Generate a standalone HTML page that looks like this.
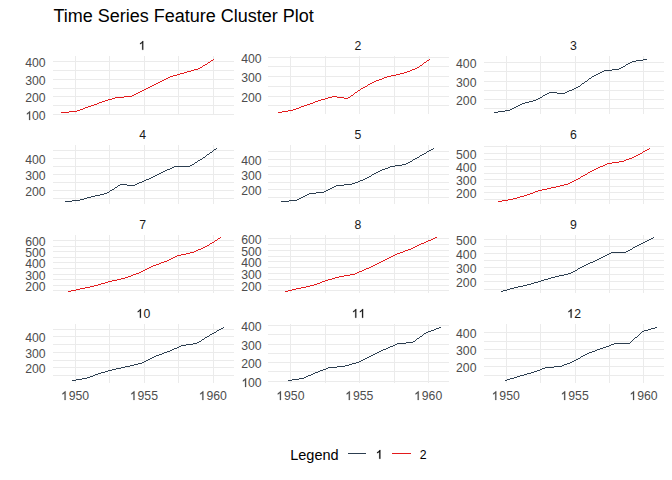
<!DOCTYPE html>
<html><head><meta charset="utf-8"><title>Time Series Feature Cluster Plot</title>
<style>
html,body{margin:0;padding:0;background:#fff;}
body{width:672px;height:480px;overflow:hidden;}
svg{display:block;font-family:"Liberation Sans",sans-serif;}
</style></head><body>
<svg width="672" height="480" viewBox="0 0 672 480">
<rect x="0" y="0" width="672" height="480" fill="#ffffff"/>
<rect x="53" y="114" width="181" height="1" fill="#ebebeb"/>
<rect x="53" y="105" width="181" height="1" fill="#ebebeb"/>
<rect x="53" y="96" width="181" height="1" fill="#ebebeb"/>
<rect x="53" y="88" width="181" height="1" fill="#ebebeb"/>
<rect x="53" y="79" width="181" height="1" fill="#ebebeb"/>
<rect x="53" y="70" width="181" height="1" fill="#ebebeb"/>
<rect x="53" y="61" width="181" height="1" fill="#ebebeb"/>
<rect x="109" y="56" width="1" height="58" fill="#ebebeb"/>
<rect x="178" y="56" width="1" height="58" fill="#ebebeb"/>
<rect x="75" y="56" width="1" height="58" fill="#ebebeb"/>
<rect x="144" y="56" width="1" height="58" fill="#ebebeb"/>
<rect x="213" y="56" width="1" height="58" fill="#ebebeb"/>
<path d="M763 0H583V1147Q518 1085 412.5 1023Q307 961 223 930V1104Q374 1175 487 1276Q600 1377 647 1472H763Z" fill="#4d4d4d" stroke="#4d4d4d" stroke-width="36" transform="translate(25.56,120.00) scale(0.005981,-0.005981)"/>
<text x="31.97" y="120.00" font-size="12.25" fill="#4d4d4d">0</text>
<text x="38.79" y="120.00" font-size="12.25" fill="#4d4d4d">0</text>
<text x="25.16" y="102.00" font-size="12.25" fill="#4d4d4d">2</text>
<text x="31.97" y="102.00" font-size="12.25" fill="#4d4d4d">0</text>
<text x="38.79" y="102.00" font-size="12.25" fill="#4d4d4d">0</text>
<text x="25.16" y="85.00" font-size="12.25" fill="#4d4d4d">3</text>
<text x="31.97" y="85.00" font-size="12.25" fill="#4d4d4d">0</text>
<text x="38.79" y="85.00" font-size="12.25" fill="#4d4d4d">0</text>
<text x="25.16" y="67.00" font-size="12.25" fill="#4d4d4d">4</text>
<text x="31.97" y="67.00" font-size="12.25" fill="#4d4d4d">0</text>
<text x="38.79" y="67.00" font-size="12.25" fill="#4d4d4d">0</text>
<path d="M763 0H583V1147Q518 1085 412.5 1023Q307 961 223 930V1104Q374 1175 487 1276Q600 1377 647 1472H763Z" fill="#1a1a1a" stroke="#1a1a1a" stroke-width="36" transform="translate(138.69,49.80) scale(0.005981,-0.005981)"/>
<path d="M213 59h1v1h-1zM211 60h2v1h-2zM210 61h1v1h-1zM208 62h2v1h-2zM207 63h1v1h-1zM205 64h2v1h-2zM203 65h2v1h-2zM202 66h1v1h-1zM200 67h2v1h-2zM198 68h2v1h-2zM194 69h4v1h-4zM191 70h3v1h-3zM187 71h4v1h-4zM184 72h3v1h-3zM180 73h4v1h-4zM177 74h3v1h-3zM173 75h4v1h-4zM170 76h3v1h-3zM168 77h2v1h-2zM166 78h2v1h-2zM164 79h2v1h-2zM162 80h2v1h-2zM160 81h2v1h-2zM158 82h2v1h-2zM156 83h2v1h-2zM154 84h2v1h-2zM152 85h2v1h-2zM150 86h2v1h-2zM148 87h2v1h-2zM146 88h2v1h-2zM144 89h2v1h-2zM142 90h2v1h-2zM140 91h2v1h-2zM138 92h2v1h-2zM136 93h2v1h-2zM134 94h2v1h-2zM132 95h2v1h-2zM124 96h8v1h-8zM115 97h9v1h-9zM112 98h3v1h-3zM108 99h4v1h-4zM105 100h3v1h-3zM102 101h3v1h-3zM99 102h3v1h-3zM97 103h2v1h-2zM94 104h3v1h-3zM91 105h3v1h-3zM88 106h3v1h-3zM85 107h3v1h-3zM83 108h2v1h-2zM80 109h3v1h-3zM77 110h3v1h-3zM69 111h8v1h-8zM61 112h8v1h-8z" fill="#e31a1c" shape-rendering="crispEdges"/>
<rect x="268" y="105" width="181" height="1" fill="#ebebeb"/>
<rect x="268" y="96" width="181" height="1" fill="#ebebeb"/>
<rect x="268" y="86" width="181" height="1" fill="#ebebeb"/>
<rect x="268" y="76" width="181" height="1" fill="#ebebeb"/>
<rect x="268" y="66" width="181" height="1" fill="#ebebeb"/>
<rect x="268" y="57" width="181" height="1" fill="#ebebeb"/>
<rect x="325" y="56" width="1" height="58" fill="#ebebeb"/>
<rect x="394" y="56" width="1" height="58" fill="#ebebeb"/>
<rect x="290" y="56" width="1" height="58" fill="#ebebeb"/>
<rect x="359" y="56" width="1" height="58" fill="#ebebeb"/>
<rect x="428" y="56" width="1" height="58" fill="#ebebeb"/>
<text x="241.16" y="102.00" font-size="12.25" fill="#4d4d4d">2</text>
<text x="247.97" y="102.00" font-size="12.25" fill="#4d4d4d">0</text>
<text x="254.79" y="102.00" font-size="12.25" fill="#4d4d4d">0</text>
<text x="241.16" y="82.00" font-size="12.25" fill="#4d4d4d">3</text>
<text x="247.97" y="82.00" font-size="12.25" fill="#4d4d4d">0</text>
<text x="254.79" y="82.00" font-size="12.25" fill="#4d4d4d">0</text>
<text x="241.16" y="63.00" font-size="12.25" fill="#4d4d4d">4</text>
<text x="247.97" y="63.00" font-size="12.25" fill="#4d4d4d">0</text>
<text x="254.79" y="63.00" font-size="12.25" fill="#4d4d4d">0</text>
<text x="354.54" y="49.80" font-size="12.25" fill="#1a1a1a">2</text>
<path d="M429 59h1v1h-1zM427 60h2v1h-2zM426 61h1v1h-1zM424 62h2v1h-2zM423 63h1v1h-1zM422 64h1v1h-1zM420 65h2v1h-2zM419 66h1v1h-1zM417 67h2v1h-2zM415 68h2v1h-2zM412 69h3v1h-3zM410 70h2v1h-2zM407 71h3v1h-3zM404 72h3v1h-3zM400 73h4v1h-4zM396 74h4v1h-4zM391 75h5v1h-5zM387 76h4v1h-4zM384 77h3v1h-3zM382 78h2v1h-2zM379 79h3v1h-3zM376 80h3v1h-3zM374 81h2v1h-2zM372 82h2v1h-2zM370 83h2v1h-2zM368 84h2v1h-2zM367 85h1v1h-1zM365 86h2v1h-2zM363 87h2v1h-2zM361 88h2v1h-2zM360 89h1v1h-1zM358 90h2v1h-2zM357 91h1v1h-1zM355 92h2v1h-2zM354 93h1v1h-1zM353 94h1v1h-1zM351 95h2v1h-2zM332 96h5v1h-5zM350 96h1v1h-1zM328 97h4v1h-4zM337 97h7v1h-7zM348 97h2v1h-2zM325 98h3v1h-3zM344 98h4v1h-4zM321 99h4v1h-4zM318 100h3v1h-3zM315 101h3v1h-3zM313 102h2v1h-2zM310 103h3v1h-3zM307 104h3v1h-3zM304 105h3v1h-3zM301 106h3v1h-3zM299 107h2v1h-2zM296 108h3v1h-3zM293 109h3v1h-3zM288 110h5v1h-5zM282 111h6v1h-6zM278 112h4v1h-4z" fill="#e31a1c" shape-rendering="crispEdges"/>
<rect x="484" y="108" width="180" height="1" fill="#ebebeb"/>
<rect x="484" y="99" width="180" height="1" fill="#ebebeb"/>
<rect x="484" y="90" width="180" height="1" fill="#ebebeb"/>
<rect x="484" y="81" width="180" height="1" fill="#ebebeb"/>
<rect x="484" y="71" width="180" height="1" fill="#ebebeb"/>
<rect x="484" y="62" width="180" height="1" fill="#ebebeb"/>
<rect x="540" y="56" width="1" height="58" fill="#ebebeb"/>
<rect x="609" y="56" width="1" height="58" fill="#ebebeb"/>
<rect x="506" y="56" width="1" height="58" fill="#ebebeb"/>
<rect x="575" y="56" width="1" height="58" fill="#ebebeb"/>
<rect x="643" y="56" width="1" height="58" fill="#ebebeb"/>
<text x="456.06" y="105.00" font-size="12.25" fill="#4d4d4d">2</text>
<text x="462.87" y="105.00" font-size="12.25" fill="#4d4d4d">0</text>
<text x="469.69" y="105.00" font-size="12.25" fill="#4d4d4d">0</text>
<text x="456.06" y="87.00" font-size="12.25" fill="#4d4d4d">3</text>
<text x="462.87" y="87.00" font-size="12.25" fill="#4d4d4d">0</text>
<text x="469.69" y="87.00" font-size="12.25" fill="#4d4d4d">0</text>
<text x="456.06" y="68.00" font-size="12.25" fill="#4d4d4d">4</text>
<text x="462.87" y="68.00" font-size="12.25" fill="#4d4d4d">0</text>
<text x="469.69" y="68.00" font-size="12.25" fill="#4d4d4d">0</text>
<text x="569.89" y="49.80" font-size="12.25" fill="#1a1a1a">3</text>
<path d="M643 59h4v1h-4zM636 60h7v1h-7zM632 61h4v1h-4zM630 62h2v1h-2zM628 63h2v1h-2zM626 64h2v1h-2zM625 65h1v1h-1zM623 66h2v1h-2zM621 67h2v1h-2zM619 68h2v1h-2zM612 69h7v1h-7zM604 70h8v1h-8zM602 71h2v1h-2zM600 72h2v1h-2zM598 73h2v1h-2zM596 74h2v1h-2zM594 75h2v1h-2zM592 76h2v1h-2zM591 77h1v1h-1zM589 78h2v1h-2zM588 79h1v1h-1zM587 80h1v1h-1zM585 81h2v1h-2zM584 82h1v1h-1zM582 83h2v1h-2zM581 84h1v1h-1zM580 85h1v1h-1zM578 86h2v1h-2zM576 87h2v1h-2zM574 88h2v1h-2zM572 89h2v1h-2zM569 90h3v1h-3zM567 91h2v1h-2zM549 92h8v1h-8zM565 92h2v1h-2zM547 93h2v1h-2zM557 93h8v1h-8zM545 94h2v1h-2zM543 95h2v1h-2zM542 96h1v1h-1zM540 97h2v1h-2zM538 98h2v1h-2zM536 99h2v1h-2zM533 100h3v1h-3zM529 101h4v1h-4zM525 102h4v1h-4zM522 103h3v1h-3zM520 104h2v1h-2zM518 105h2v1h-2zM516 106h2v1h-2zM514 107h2v1h-2zM512 108h2v1h-2zM510 109h2v1h-2zM505 110h5v1h-5zM498 111h7v1h-7zM494 112h4v1h-4z" fill="#2c3e50" shape-rendering="crispEdges"/>
<rect x="53" y="198" width="181" height="1" fill="#ebebeb"/>
<rect x="53" y="190" width="181" height="1" fill="#ebebeb"/>
<rect x="53" y="182" width="181" height="1" fill="#ebebeb"/>
<rect x="53" y="174" width="181" height="1" fill="#ebebeb"/>
<rect x="53" y="166" width="181" height="1" fill="#ebebeb"/>
<rect x="53" y="158" width="181" height="1" fill="#ebebeb"/>
<rect x="53" y="150" width="181" height="1" fill="#ebebeb"/>
<rect x="109" y="145" width="1" height="59" fill="#ebebeb"/>
<rect x="178" y="145" width="1" height="59" fill="#ebebeb"/>
<rect x="75" y="145" width="1" height="59" fill="#ebebeb"/>
<rect x="144" y="145" width="1" height="59" fill="#ebebeb"/>
<rect x="213" y="145" width="1" height="59" fill="#ebebeb"/>
<text x="25.16" y="196.00" font-size="12.25" fill="#4d4d4d">2</text>
<text x="31.97" y="196.00" font-size="12.25" fill="#4d4d4d">0</text>
<text x="38.79" y="196.00" font-size="12.25" fill="#4d4d4d">0</text>
<text x="25.16" y="180.00" font-size="12.25" fill="#4d4d4d">3</text>
<text x="31.97" y="180.00" font-size="12.25" fill="#4d4d4d">0</text>
<text x="38.79" y="180.00" font-size="12.25" fill="#4d4d4d">0</text>
<text x="25.16" y="164.00" font-size="12.25" fill="#4d4d4d">4</text>
<text x="31.97" y="164.00" font-size="12.25" fill="#4d4d4d">0</text>
<text x="38.79" y="164.00" font-size="12.25" fill="#4d4d4d">0</text>
<text x="139.19" y="138.80" font-size="12.25" fill="#1a1a1a">4</text>
<path d="M216 148h1v1h-1zM214 149h2v1h-2zM213 150h1v1h-1zM212 151h1v1h-1zM210 152h2v1h-2zM209 153h1v1h-1zM207 154h2v1h-2zM206 155h1v1h-1zM205 156h1v1h-1zM203 157h2v1h-2zM202 158h1v1h-1zM200 159h2v1h-2zM198 160h2v1h-2zM197 161h1v1h-1zM195 162h2v1h-2zM194 163h1v1h-1zM192 164h2v1h-2zM190 165h2v1h-2zM174 166h16v1h-16zM172 167h2v1h-2zM170 168h2v1h-2zM167 169h3v1h-3zM165 170h2v1h-2zM163 171h2v1h-2zM161 172h2v1h-2zM159 173h2v1h-2zM157 174h2v1h-2zM155 175h2v1h-2zM153 176h2v1h-2zM151 177h2v1h-2zM149 178h2v1h-2zM146 179h3v1h-3zM144 180h2v1h-2zM142 181h2v1h-2zM139 182h3v1h-3zM137 183h2v1h-2zM120 184h7v1h-7zM135 184h2v1h-2zM118 185h2v1h-2zM127 185h8v1h-8zM117 186h1v1h-1zM115 187h2v1h-2zM114 188h1v1h-1zM112 189h2v1h-2zM110 190h2v1h-2zM109 191h1v1h-1zM107 192h2v1h-2zM104 193h3v1h-3zM100 194h4v1h-4zM95 195h5v1h-5zM91 196h4v1h-4zM87 197h4v1h-4zM84 198h3v1h-3zM80 199h4v1h-4zM72 200h8v1h-8zM65 201h7v1h-7z" fill="#2c3e50" shape-rendering="crispEdges"/>
<rect x="268" y="197" width="181" height="1" fill="#ebebeb"/>
<rect x="268" y="189" width="181" height="1" fill="#ebebeb"/>
<rect x="268" y="182" width="181" height="1" fill="#ebebeb"/>
<rect x="268" y="174" width="181" height="1" fill="#ebebeb"/>
<rect x="268" y="166" width="181" height="1" fill="#ebebeb"/>
<rect x="268" y="159" width="181" height="1" fill="#ebebeb"/>
<rect x="268" y="151" width="181" height="1" fill="#ebebeb"/>
<rect x="325" y="145" width="1" height="59" fill="#ebebeb"/>
<rect x="394" y="145" width="1" height="59" fill="#ebebeb"/>
<rect x="290" y="145" width="1" height="59" fill="#ebebeb"/>
<rect x="359" y="145" width="1" height="59" fill="#ebebeb"/>
<rect x="428" y="145" width="1" height="59" fill="#ebebeb"/>
<text x="241.16" y="195.00" font-size="12.25" fill="#4d4d4d">2</text>
<text x="247.97" y="195.00" font-size="12.25" fill="#4d4d4d">0</text>
<text x="254.79" y="195.00" font-size="12.25" fill="#4d4d4d">0</text>
<text x="241.16" y="180.00" font-size="12.25" fill="#4d4d4d">3</text>
<text x="247.97" y="180.00" font-size="12.25" fill="#4d4d4d">0</text>
<text x="254.79" y="180.00" font-size="12.25" fill="#4d4d4d">0</text>
<text x="241.16" y="165.00" font-size="12.25" fill="#4d4d4d">4</text>
<text x="247.97" y="165.00" font-size="12.25" fill="#4d4d4d">0</text>
<text x="254.79" y="165.00" font-size="12.25" fill="#4d4d4d">0</text>
<text x="354.54" y="138.80" font-size="12.25" fill="#1a1a1a">5</text>
<path d="M433 148h1v1h-1zM431 149h2v1h-2zM429 150h2v1h-2zM427 151h2v1h-2zM426 152h1v1h-1zM424 153h2v1h-2zM422 154h2v1h-2zM420 155h2v1h-2zM419 156h1v1h-1zM417 157h2v1h-2zM415 158h2v1h-2zM413 159h2v1h-2zM412 160h1v1h-1zM410 161h2v1h-2zM408 162h2v1h-2zM406 163h2v1h-2zM402 164h4v1h-4zM395 165h7v1h-7zM390 166h5v1h-5zM388 167h2v1h-2zM385 168h3v1h-3zM382 169h3v1h-3zM380 170h2v1h-2zM378 171h2v1h-2zM376 172h2v1h-2zM374 173h2v1h-2zM372 174h2v1h-2zM371 175h1v1h-1zM369 176h2v1h-2zM367 177h2v1h-2zM365 178h2v1h-2zM363 179h2v1h-2zM360 180h3v1h-3zM358 181h2v1h-2zM355 182h3v1h-3zM352 183h3v1h-3zM344 184h8v1h-8zM336 185h8v1h-8zM334 186h2v1h-2zM332 187h2v1h-2zM330 188h2v1h-2zM328 189h2v1h-2zM326 190h2v1h-2zM324 191h2v1h-2zM316 192h8v1h-8zM309 193h7v1h-7zM307 194h2v1h-2zM305 195h2v1h-2zM303 196h2v1h-2zM301 197h2v1h-2zM299 198h2v1h-2zM297 199h2v1h-2zM289 200h8v1h-8zM281 201h8v1h-8z" fill="#2c3e50" shape-rendering="crispEdges"/>
<rect x="484" y="199" width="180" height="1" fill="#ebebeb"/>
<rect x="484" y="192" width="180" height="1" fill="#ebebeb"/>
<rect x="484" y="186" width="180" height="1" fill="#ebebeb"/>
<rect x="484" y="179" width="180" height="1" fill="#ebebeb"/>
<rect x="484" y="173" width="180" height="1" fill="#ebebeb"/>
<rect x="484" y="166" width="180" height="1" fill="#ebebeb"/>
<rect x="484" y="159" width="180" height="1" fill="#ebebeb"/>
<rect x="484" y="153" width="180" height="1" fill="#ebebeb"/>
<rect x="484" y="146" width="180" height="1" fill="#ebebeb"/>
<rect x="540" y="145" width="1" height="59" fill="#ebebeb"/>
<rect x="609" y="145" width="1" height="59" fill="#ebebeb"/>
<rect x="506" y="145" width="1" height="59" fill="#ebebeb"/>
<rect x="575" y="145" width="1" height="59" fill="#ebebeb"/>
<rect x="643" y="145" width="1" height="59" fill="#ebebeb"/>
<text x="456.06" y="198.00" font-size="12.25" fill="#4d4d4d">2</text>
<text x="462.87" y="198.00" font-size="12.25" fill="#4d4d4d">0</text>
<text x="469.69" y="198.00" font-size="12.25" fill="#4d4d4d">0</text>
<text x="456.06" y="185.00" font-size="12.25" fill="#4d4d4d">3</text>
<text x="462.87" y="185.00" font-size="12.25" fill="#4d4d4d">0</text>
<text x="469.69" y="185.00" font-size="12.25" fill="#4d4d4d">0</text>
<text x="456.06" y="172.00" font-size="12.25" fill="#4d4d4d">4</text>
<text x="462.87" y="172.00" font-size="12.25" fill="#4d4d4d">0</text>
<text x="469.69" y="172.00" font-size="12.25" fill="#4d4d4d">0</text>
<text x="456.06" y="159.00" font-size="12.25" fill="#4d4d4d">5</text>
<text x="462.87" y="159.00" font-size="12.25" fill="#4d4d4d">0</text>
<text x="469.69" y="159.00" font-size="12.25" fill="#4d4d4d">0</text>
<text x="569.89" y="138.80" font-size="12.25" fill="#1a1a1a">6</text>
<path d="M649 148h1v1h-1zM647 149h2v1h-2zM645 150h2v1h-2zM643 151h2v1h-2zM642 152h1v1h-1zM640 153h2v1h-2zM638 154h2v1h-2zM636 155h2v1h-2zM634 156h2v1h-2zM632 157h2v1h-2zM629 158h3v1h-3zM626 159h3v1h-3zM624 160h2v1h-2zM619 161h5v1h-5zM612 162h7v1h-7zM607 163h5v1h-5zM605 164h2v1h-2zM603 165h2v1h-2zM600 166h3v1h-3zM598 167h2v1h-2zM596 168h2v1h-2zM594 169h2v1h-2zM592 170h2v1h-2zM590 171h2v1h-2zM588 172h2v1h-2zM587 173h1v1h-1zM585 174h2v1h-2zM583 175h2v1h-2zM581 176h2v1h-2zM580 177h1v1h-1zM578 178h2v1h-2zM576 179h2v1h-2zM574 180h2v1h-2zM572 181h2v1h-2zM570 182h2v1h-2zM568 183h2v1h-2zM564 184h4v1h-4zM560 185h4v1h-4zM556 186h4v1h-4zM551 187h5v1h-5zM547 188h4v1h-4zM542 189h5v1h-5zM538 190h4v1h-4zM535 191h3v1h-3zM533 192h2v1h-2zM530 193h3v1h-3zM527 194h3v1h-3zM524 195h3v1h-3zM520 196h4v1h-4zM517 197h3v1h-3zM513 198h4v1h-4zM508 199h5v1h-5zM502 200h6v1h-6zM498 201h4v1h-4z" fill="#e31a1c" shape-rendering="crispEdges"/>
<rect x="53" y="290" width="181" height="1" fill="#ebebeb"/>
<rect x="53" y="285" width="181" height="1" fill="#ebebeb"/>
<rect x="53" y="279" width="181" height="1" fill="#ebebeb"/>
<rect x="53" y="274" width="181" height="1" fill="#ebebeb"/>
<rect x="53" y="268" width="181" height="1" fill="#ebebeb"/>
<rect x="53" y="262" width="181" height="1" fill="#ebebeb"/>
<rect x="53" y="257" width="181" height="1" fill="#ebebeb"/>
<rect x="53" y="251" width="181" height="1" fill="#ebebeb"/>
<rect x="53" y="246" width="181" height="1" fill="#ebebeb"/>
<rect x="53" y="240" width="181" height="1" fill="#ebebeb"/>
<rect x="109" y="235" width="1" height="58" fill="#ebebeb"/>
<rect x="178" y="235" width="1" height="58" fill="#ebebeb"/>
<rect x="75" y="235" width="1" height="58" fill="#ebebeb"/>
<rect x="144" y="235" width="1" height="58" fill="#ebebeb"/>
<rect x="213" y="235" width="1" height="58" fill="#ebebeb"/>
<text x="25.16" y="291.00" font-size="12.25" fill="#4d4d4d">2</text>
<text x="31.97" y="291.00" font-size="12.25" fill="#4d4d4d">0</text>
<text x="38.79" y="291.00" font-size="12.25" fill="#4d4d4d">0</text>
<text x="25.16" y="280.00" font-size="12.25" fill="#4d4d4d">3</text>
<text x="31.97" y="280.00" font-size="12.25" fill="#4d4d4d">0</text>
<text x="38.79" y="280.00" font-size="12.25" fill="#4d4d4d">0</text>
<text x="25.16" y="268.00" font-size="12.25" fill="#4d4d4d">4</text>
<text x="31.97" y="268.00" font-size="12.25" fill="#4d4d4d">0</text>
<text x="38.79" y="268.00" font-size="12.25" fill="#4d4d4d">0</text>
<text x="25.16" y="257.00" font-size="12.25" fill="#4d4d4d">5</text>
<text x="31.97" y="257.00" font-size="12.25" fill="#4d4d4d">0</text>
<text x="38.79" y="257.00" font-size="12.25" fill="#4d4d4d">0</text>
<text x="25.16" y="246.00" font-size="12.25" fill="#4d4d4d">6</text>
<text x="31.97" y="246.00" font-size="12.25" fill="#4d4d4d">0</text>
<text x="38.79" y="246.00" font-size="12.25" fill="#4d4d4d">0</text>
<text x="139.19" y="228.80" font-size="12.25" fill="#1a1a1a">7</text>
<path d="M220 237h1v1h-1zM218 238h2v1h-2zM217 239h1v1h-1zM215 240h2v1h-2zM214 241h1v1h-1zM212 242h2v1h-2zM210 243h2v1h-2zM209 244h1v1h-1zM207 245h2v1h-2zM205 246h2v1h-2zM203 247h2v1h-2zM201 248h2v1h-2zM198 249h3v1h-3zM196 250h2v1h-2zM194 251h2v1h-2zM190 252h4v1h-4zM186 253h4v1h-4zM181 254h5v1h-5zM177 255h4v1h-4zM175 256h2v1h-2zM173 257h2v1h-2zM171 258h2v1h-2zM169 259h2v1h-2zM167 260h2v1h-2zM164 261h3v1h-3zM161 262h3v1h-3zM159 263h2v1h-2zM156 264h3v1h-3zM153 265h3v1h-3zM151 266h2v1h-2zM149 267h2v1h-2zM147 268h2v1h-2zM145 269h2v1h-2zM143 270h2v1h-2zM141 271h2v1h-2zM139 272h2v1h-2zM136 273h3v1h-3zM133 274h3v1h-3zM131 275h2v1h-2zM128 276h3v1h-3zM125 277h3v1h-3zM121 278h4v1h-4zM117 279h4v1h-4zM112 280h5v1h-5zM108 281h4v1h-4zM105 282h3v1h-3zM101 283h4v1h-4zM98 284h3v1h-3zM94 285h4v1h-4zM90 286h4v1h-4zM85 287h5v1h-5zM80 288h5v1h-5zM76 289h4v1h-4zM71 290h5v1h-5zM68 291h3v1h-3z" fill="#e31a1c" shape-rendering="crispEdges"/>
<rect x="268" y="290" width="181" height="1" fill="#ebebeb"/>
<rect x="268" y="285" width="181" height="1" fill="#ebebeb"/>
<rect x="268" y="279" width="181" height="1" fill="#ebebeb"/>
<rect x="268" y="273" width="181" height="1" fill="#ebebeb"/>
<rect x="268" y="267" width="181" height="1" fill="#ebebeb"/>
<rect x="268" y="261" width="181" height="1" fill="#ebebeb"/>
<rect x="268" y="256" width="181" height="1" fill="#ebebeb"/>
<rect x="268" y="250" width="181" height="1" fill="#ebebeb"/>
<rect x="268" y="244" width="181" height="1" fill="#ebebeb"/>
<rect x="268" y="238" width="181" height="1" fill="#ebebeb"/>
<rect x="325" y="235" width="1" height="58" fill="#ebebeb"/>
<rect x="394" y="235" width="1" height="58" fill="#ebebeb"/>
<rect x="290" y="235" width="1" height="58" fill="#ebebeb"/>
<rect x="359" y="235" width="1" height="58" fill="#ebebeb"/>
<rect x="428" y="235" width="1" height="58" fill="#ebebeb"/>
<text x="241.16" y="291.00" font-size="12.25" fill="#4d4d4d">2</text>
<text x="247.97" y="291.00" font-size="12.25" fill="#4d4d4d">0</text>
<text x="254.79" y="291.00" font-size="12.25" fill="#4d4d4d">0</text>
<text x="241.16" y="279.00" font-size="12.25" fill="#4d4d4d">3</text>
<text x="247.97" y="279.00" font-size="12.25" fill="#4d4d4d">0</text>
<text x="254.79" y="279.00" font-size="12.25" fill="#4d4d4d">0</text>
<text x="241.16" y="267.00" font-size="12.25" fill="#4d4d4d">4</text>
<text x="247.97" y="267.00" font-size="12.25" fill="#4d4d4d">0</text>
<text x="254.79" y="267.00" font-size="12.25" fill="#4d4d4d">0</text>
<text x="241.16" y="256.00" font-size="12.25" fill="#4d4d4d">5</text>
<text x="247.97" y="256.00" font-size="12.25" fill="#4d4d4d">0</text>
<text x="254.79" y="256.00" font-size="12.25" fill="#4d4d4d">0</text>
<text x="241.16" y="244.00" font-size="12.25" fill="#4d4d4d">6</text>
<text x="247.97" y="244.00" font-size="12.25" fill="#4d4d4d">0</text>
<text x="254.79" y="244.00" font-size="12.25" fill="#4d4d4d">0</text>
<text x="354.54" y="228.80" font-size="12.25" fill="#1a1a1a">8</text>
<path d="M435 237h2v1h-2zM433 238h2v1h-2zM431 239h2v1h-2zM428 240h3v1h-3zM426 241h2v1h-2zM424 242h2v1h-2zM421 243h3v1h-3zM419 244h2v1h-2zM417 245h2v1h-2zM415 246h2v1h-2zM413 247h2v1h-2zM411 248h2v1h-2zM408 249h3v1h-3zM405 250h3v1h-3zM403 251h2v1h-2zM400 252h3v1h-3zM397 253h3v1h-3zM395 254h2v1h-2zM393 255h2v1h-2zM391 256h2v1h-2zM389 257h2v1h-2zM387 258h2v1h-2zM385 259h2v1h-2zM383 260h2v1h-2zM381 261h2v1h-2zM379 262h2v1h-2zM377 263h2v1h-2zM375 264h2v1h-2zM373 265h2v1h-2zM371 266h2v1h-2zM369 267h2v1h-2zM366 268h3v1h-3zM364 269h2v1h-2zM362 270h2v1h-2zM359 271h3v1h-3zM357 272h2v1h-2zM355 273h2v1h-2zM350 274h5v1h-5zM344 275h6v1h-6zM339 276h5v1h-5zM335 277h4v1h-4zM332 278h3v1h-3zM328 279h4v1h-4zM325 280h3v1h-3zM322 281h3v1h-3zM320 282h2v1h-2zM317 283h3v1h-3zM314 284h3v1h-3zM310 285h4v1h-4zM306 286h4v1h-4zM301 287h5v1h-5zM296 288h5v1h-5zM292 289h4v1h-4zM288 290h4v1h-4zM285 291h3v1h-3z" fill="#e31a1c" shape-rendering="crispEdges"/>
<rect x="484" y="289" width="180" height="1" fill="#ebebeb"/>
<rect x="484" y="281" width="180" height="1" fill="#ebebeb"/>
<rect x="484" y="274" width="180" height="1" fill="#ebebeb"/>
<rect x="484" y="267" width="180" height="1" fill="#ebebeb"/>
<rect x="484" y="260" width="180" height="1" fill="#ebebeb"/>
<rect x="484" y="253" width="180" height="1" fill="#ebebeb"/>
<rect x="484" y="246" width="180" height="1" fill="#ebebeb"/>
<rect x="484" y="239" width="180" height="1" fill="#ebebeb"/>
<rect x="540" y="235" width="1" height="58" fill="#ebebeb"/>
<rect x="609" y="235" width="1" height="58" fill="#ebebeb"/>
<rect x="506" y="235" width="1" height="58" fill="#ebebeb"/>
<rect x="575" y="235" width="1" height="58" fill="#ebebeb"/>
<rect x="643" y="235" width="1" height="58" fill="#ebebeb"/>
<text x="456.06" y="287.00" font-size="12.25" fill="#4d4d4d">2</text>
<text x="462.87" y="287.00" font-size="12.25" fill="#4d4d4d">0</text>
<text x="469.69" y="287.00" font-size="12.25" fill="#4d4d4d">0</text>
<text x="456.06" y="273.00" font-size="12.25" fill="#4d4d4d">3</text>
<text x="462.87" y="273.00" font-size="12.25" fill="#4d4d4d">0</text>
<text x="469.69" y="273.00" font-size="12.25" fill="#4d4d4d">0</text>
<text x="456.06" y="259.00" font-size="12.25" fill="#4d4d4d">4</text>
<text x="462.87" y="259.00" font-size="12.25" fill="#4d4d4d">0</text>
<text x="469.69" y="259.00" font-size="12.25" fill="#4d4d4d">0</text>
<text x="456.06" y="245.00" font-size="12.25" fill="#4d4d4d">5</text>
<text x="462.87" y="245.00" font-size="12.25" fill="#4d4d4d">0</text>
<text x="469.69" y="245.00" font-size="12.25" fill="#4d4d4d">0</text>
<text x="569.89" y="228.80" font-size="12.25" fill="#1a1a1a">9</text>
<path d="M653 237h1v1h-1zM651 238h2v1h-2zM649 239h2v1h-2zM647 240h2v1h-2zM645 241h2v1h-2zM643 242h2v1h-2zM641 243h2v1h-2zM639 244h2v1h-2zM637 245h2v1h-2zM635 246h2v1h-2zM633 247h2v1h-2zM632 248h1v1h-1zM630 249h2v1h-2zM628 250h2v1h-2zM626 251h2v1h-2zM611 252h15v1h-15zM609 253h2v1h-2zM607 254h2v1h-2zM605 255h2v1h-2zM603 256h2v1h-2zM601 257h2v1h-2zM599 258h2v1h-2zM597 259h2v1h-2zM595 260h2v1h-2zM593 261h2v1h-2zM590 262h3v1h-3zM588 263h2v1h-2zM586 264h2v1h-2zM584 265h2v1h-2zM582 266h2v1h-2zM580 267h2v1h-2zM578 268h2v1h-2zM577 269h1v1h-1zM575 270h2v1h-2zM573 271h2v1h-2zM571 272h2v1h-2zM568 273h3v1h-3zM564 274h4v1h-4zM559 275h5v1h-5zM555 276h4v1h-4zM551 277h4v1h-4zM548 278h3v1h-3zM544 279h4v1h-4zM541 280h3v1h-3zM538 281h3v1h-3zM534 282h4v1h-4zM531 283h3v1h-3zM527 284h4v1h-4zM523 285h4v1h-4zM518 286h5v1h-5zM514 287h4v1h-4zM510 288h4v1h-4zM507 289h3v1h-3zM503 290h4v1h-4zM501 291h2v1h-2z" fill="#2c3e50" shape-rendering="crispEdges"/>
<rect x="53" y="375" width="181" height="1" fill="#ebebeb"/>
<rect x="53" y="367" width="181" height="1" fill="#ebebeb"/>
<rect x="53" y="360" width="181" height="1" fill="#ebebeb"/>
<rect x="53" y="352" width="181" height="1" fill="#ebebeb"/>
<rect x="53" y="344" width="181" height="1" fill="#ebebeb"/>
<rect x="53" y="336" width="181" height="1" fill="#ebebeb"/>
<rect x="53" y="329" width="181" height="1" fill="#ebebeb"/>
<rect x="109" y="324" width="1" height="59" fill="#ebebeb"/>
<rect x="178" y="324" width="1" height="59" fill="#ebebeb"/>
<rect x="75" y="324" width="1" height="59" fill="#ebebeb"/>
<rect x="144" y="324" width="1" height="59" fill="#ebebeb"/>
<rect x="213" y="324" width="1" height="59" fill="#ebebeb"/>
<text x="25.16" y="373.00" font-size="12.25" fill="#4d4d4d">2</text>
<text x="31.97" y="373.00" font-size="12.25" fill="#4d4d4d">0</text>
<text x="38.79" y="373.00" font-size="12.25" fill="#4d4d4d">0</text>
<text x="25.16" y="358.00" font-size="12.25" fill="#4d4d4d">3</text>
<text x="31.97" y="358.00" font-size="12.25" fill="#4d4d4d">0</text>
<text x="38.79" y="358.00" font-size="12.25" fill="#4d4d4d">0</text>
<text x="25.16" y="342.00" font-size="12.25" fill="#4d4d4d">4</text>
<text x="31.97" y="342.00" font-size="12.25" fill="#4d4d4d">0</text>
<text x="38.79" y="342.00" font-size="12.25" fill="#4d4d4d">0</text>
<path d="M763 0H583V1147Q518 1085 412.5 1023Q307 961 223 930V1104Q374 1175 487 1276Q600 1377 647 1472H763Z" fill="#1a1a1a" stroke="#1a1a1a" stroke-width="36" transform="translate(136.39,317.80) scale(0.005981,-0.005981)"/>
<text x="143.50" y="317.80" font-size="12.25" fill="#1a1a1a">0</text>
<path d="M223 327h1v1h-1zM221 328h2v1h-2zM219 329h2v1h-2zM217 330h2v1h-2zM216 331h1v1h-1zM214 332h2v1h-2zM212 333h2v1h-2zM210 334h2v1h-2zM209 335h1v1h-1zM207 336h2v1h-2zM205 337h2v1h-2zM204 338h1v1h-1zM202 339h2v1h-2zM201 340h1v1h-1zM199 341h2v1h-2zM197 342h2v1h-2zM193 343h4v1h-4zM186 344h7v1h-7zM181 345h5v1h-5zM179 346h2v1h-2zM177 347h2v1h-2zM174 348h3v1h-3zM172 349h2v1h-2zM170 350h2v1h-2zM167 351h3v1h-3zM164 352h3v1h-3zM162 353h2v1h-2zM159 354h3v1h-3zM156 355h3v1h-3zM154 356h2v1h-2zM152 357h2v1h-2zM150 358h2v1h-2zM148 359h2v1h-2zM146 360h2v1h-2zM144 361h2v1h-2zM142 362h2v1h-2zM138 363h4v1h-4zM134 364h4v1h-4zM130 365h4v1h-4zM125 366h5v1h-5zM121 367h4v1h-4zM116 368h5v1h-5zM112 369h4v1h-4zM108 370h4v1h-4zM105 371h3v1h-3zM101 372h4v1h-4zM98 373h3v1h-3zM95 374h3v1h-3zM93 375h2v1h-2zM90 376h3v1h-3zM87 377h3v1h-3zM82 378h5v1h-5zM76 379h6v1h-6zM72 380h4v1h-4z" fill="#2c3e50" shape-rendering="crispEdges"/>
<path d="M763 0H583V1147Q518 1085 412.5 1023Q307 961 223 930V1104Q374 1175 487 1276Q600 1377 647 1472H763Z" fill="#4d4d4d" stroke="#4d4d4d" stroke-width="36" transform="translate(61.05,400.00) scale(0.005981,-0.005981)"/>
<text x="68.67" y="400.00" font-size="12.25" fill="#4d4d4d">9</text>
<text x="75.48" y="400.00" font-size="12.25" fill="#4d4d4d">5</text>
<text x="82.29" y="400.00" font-size="12.25" fill="#4d4d4d">0</text>
<path d="M763 0H583V1147Q518 1085 412.5 1023Q307 961 223 930V1104Q374 1175 487 1276Q600 1377 647 1472H763Z" fill="#4d4d4d" stroke="#4d4d4d" stroke-width="36" transform="translate(129.94,400.00) scale(0.005981,-0.005981)"/>
<text x="137.55" y="400.00" font-size="12.25" fill="#4d4d4d">9</text>
<text x="144.37" y="400.00" font-size="12.25" fill="#4d4d4d">5</text>
<text x="151.18" y="400.00" font-size="12.25" fill="#4d4d4d">5</text>
<path d="M763 0H583V1147Q518 1085 412.5 1023Q307 961 223 930V1104Q374 1175 487 1276Q600 1377 647 1472H763Z" fill="#4d4d4d" stroke="#4d4d4d" stroke-width="36" transform="translate(198.83,400.00) scale(0.005981,-0.005981)"/>
<text x="206.44" y="400.00" font-size="12.25" fill="#4d4d4d">9</text>
<text x="213.25" y="400.00" font-size="12.25" fill="#4d4d4d">6</text>
<text x="220.07" y="400.00" font-size="12.25" fill="#4d4d4d">0</text>
<rect x="268" y="381" width="181" height="1" fill="#ebebeb"/>
<rect x="268" y="371" width="181" height="1" fill="#ebebeb"/>
<rect x="268" y="362" width="181" height="1" fill="#ebebeb"/>
<rect x="268" y="353" width="181" height="1" fill="#ebebeb"/>
<rect x="268" y="344" width="181" height="1" fill="#ebebeb"/>
<rect x="268" y="334" width="181" height="1" fill="#ebebeb"/>
<rect x="268" y="325" width="181" height="1" fill="#ebebeb"/>
<rect x="325" y="324" width="1" height="59" fill="#ebebeb"/>
<rect x="394" y="324" width="1" height="59" fill="#ebebeb"/>
<rect x="290" y="324" width="1" height="59" fill="#ebebeb"/>
<rect x="359" y="324" width="1" height="59" fill="#ebebeb"/>
<rect x="428" y="324" width="1" height="59" fill="#ebebeb"/>
<path d="M763 0H583V1147Q518 1085 412.5 1023Q307 961 223 930V1104Q374 1175 487 1276Q600 1377 647 1472H763Z" fill="#4d4d4d" stroke="#4d4d4d" stroke-width="36" transform="translate(241.56,387.00) scale(0.005981,-0.005981)"/>
<text x="247.97" y="387.00" font-size="12.25" fill="#4d4d4d">0</text>
<text x="254.79" y="387.00" font-size="12.25" fill="#4d4d4d">0</text>
<text x="241.16" y="368.00" font-size="12.25" fill="#4d4d4d">2</text>
<text x="247.97" y="368.00" font-size="12.25" fill="#4d4d4d">0</text>
<text x="254.79" y="368.00" font-size="12.25" fill="#4d4d4d">0</text>
<text x="241.16" y="350.00" font-size="12.25" fill="#4d4d4d">3</text>
<text x="247.97" y="350.00" font-size="12.25" fill="#4d4d4d">0</text>
<text x="254.79" y="350.00" font-size="12.25" fill="#4d4d4d">0</text>
<text x="241.16" y="331.00" font-size="12.25" fill="#4d4d4d">4</text>
<text x="247.97" y="331.00" font-size="12.25" fill="#4d4d4d">0</text>
<text x="254.79" y="331.00" font-size="12.25" fill="#4d4d4d">0</text>
<path d="M763 0H583V1147Q518 1085 412.5 1023Q307 961 223 930V1104Q374 1175 487 1276Q600 1377 647 1472H763Z" fill="#1a1a1a" stroke="#1a1a1a" stroke-width="36" transform="translate(351.74,317.80) scale(0.005981,-0.005981)"/>
<path d="M763 0H583V1147Q518 1085 412.5 1023Q307 961 223 930V1104Q374 1175 487 1276Q600 1377 647 1472H763Z" fill="#1a1a1a" stroke="#1a1a1a" stroke-width="36" transform="translate(358.55,317.80) scale(0.005981,-0.005981)"/>
<path d="M439 327h2v1h-2zM436 328h3v1h-3zM434 329h2v1h-2zM431 330h3v1h-3zM428 331h3v1h-3zM426 332h2v1h-2zM424 333h2v1h-2zM423 334h1v1h-1zM422 335h1v1h-1zM420 336h2v1h-2zM419 337h1v1h-1zM417 338h2v1h-2zM416 339h1v1h-1zM415 340h1v1h-1zM413 341h2v1h-2zM406 342h7v1h-7zM397 343h9v1h-9zM395 344h2v1h-2zM393 345h2v1h-2zM390 346h3v1h-3zM388 347h2v1h-2zM386 348h2v1h-2zM383 349h3v1h-3zM381 350h2v1h-2zM379 351h2v1h-2zM377 352h2v1h-2zM375 353h2v1h-2zM373 354h2v1h-2zM371 355h2v1h-2zM369 356h2v1h-2zM367 357h2v1h-2zM365 358h2v1h-2zM363 359h2v1h-2zM361 360h2v1h-2zM359 361h2v1h-2zM356 362h3v1h-3zM352 363h4v1h-4zM349 364h3v1h-3zM345 365h4v1h-4zM337 366h8v1h-8zM328 367h9v1h-9zM326 368h2v1h-2zM323 369h3v1h-3zM320 370h3v1h-3zM318 371h2v1h-2zM315 372h3v1h-3zM313 373h2v1h-2zM311 374h2v1h-2zM308 375h3v1h-3zM306 376h2v1h-2zM304 377h2v1h-2zM299 378h5v1h-5zM292 379h7v1h-7zM288 380h4v1h-4z" fill="#2c3e50" shape-rendering="crispEdges"/>
<path d="M763 0H583V1147Q518 1085 412.5 1023Q307 961 223 930V1104Q374 1175 487 1276Q600 1377 647 1472H763Z" fill="#4d4d4d" stroke="#4d4d4d" stroke-width="36" transform="translate(276.40,400.00) scale(0.005981,-0.005981)"/>
<text x="284.02" y="400.00" font-size="12.25" fill="#4d4d4d">9</text>
<text x="290.83" y="400.00" font-size="12.25" fill="#4d4d4d">5</text>
<text x="297.64" y="400.00" font-size="12.25" fill="#4d4d4d">0</text>
<path d="M763 0H583V1147Q518 1085 412.5 1023Q307 961 223 930V1104Q374 1175 487 1276Q600 1377 647 1472H763Z" fill="#4d4d4d" stroke="#4d4d4d" stroke-width="36" transform="translate(345.29,400.00) scale(0.005981,-0.005981)"/>
<text x="352.90" y="400.00" font-size="12.25" fill="#4d4d4d">9</text>
<text x="359.72" y="400.00" font-size="12.25" fill="#4d4d4d">5</text>
<text x="366.53" y="400.00" font-size="12.25" fill="#4d4d4d">5</text>
<path d="M763 0H583V1147Q518 1085 412.5 1023Q307 961 223 930V1104Q374 1175 487 1276Q600 1377 647 1472H763Z" fill="#4d4d4d" stroke="#4d4d4d" stroke-width="36" transform="translate(414.18,400.00) scale(0.005981,-0.005981)"/>
<text x="421.79" y="400.00" font-size="12.25" fill="#4d4d4d">9</text>
<text x="428.60" y="400.00" font-size="12.25" fill="#4d4d4d">6</text>
<text x="435.42" y="400.00" font-size="12.25" fill="#4d4d4d">0</text>
<rect x="484" y="375" width="180" height="1" fill="#ebebeb"/>
<rect x="484" y="366" width="180" height="1" fill="#ebebeb"/>
<rect x="484" y="358" width="180" height="1" fill="#ebebeb"/>
<rect x="484" y="349" width="180" height="1" fill="#ebebeb"/>
<rect x="484" y="341" width="180" height="1" fill="#ebebeb"/>
<rect x="484" y="332" width="180" height="1" fill="#ebebeb"/>
<rect x="540" y="324" width="1" height="59" fill="#ebebeb"/>
<rect x="609" y="324" width="1" height="59" fill="#ebebeb"/>
<rect x="506" y="324" width="1" height="59" fill="#ebebeb"/>
<rect x="575" y="324" width="1" height="59" fill="#ebebeb"/>
<rect x="643" y="324" width="1" height="59" fill="#ebebeb"/>
<text x="456.06" y="372.00" font-size="12.25" fill="#4d4d4d">2</text>
<text x="462.87" y="372.00" font-size="12.25" fill="#4d4d4d">0</text>
<text x="469.69" y="372.00" font-size="12.25" fill="#4d4d4d">0</text>
<text x="456.06" y="355.00" font-size="12.25" fill="#4d4d4d">3</text>
<text x="462.87" y="355.00" font-size="12.25" fill="#4d4d4d">0</text>
<text x="469.69" y="355.00" font-size="12.25" fill="#4d4d4d">0</text>
<text x="456.06" y="338.00" font-size="12.25" fill="#4d4d4d">4</text>
<text x="462.87" y="338.00" font-size="12.25" fill="#4d4d4d">0</text>
<text x="469.69" y="338.00" font-size="12.25" fill="#4d4d4d">0</text>
<path d="M763 0H583V1147Q518 1085 412.5 1023Q307 961 223 930V1104Q374 1175 487 1276Q600 1377 647 1472H763Z" fill="#1a1a1a" stroke="#1a1a1a" stroke-width="36" transform="translate(567.09,317.80) scale(0.005981,-0.005981)"/>
<text x="574.20" y="317.80" font-size="12.25" fill="#1a1a1a">2</text>
<path d="M655 327h2v1h-2zM651 328h4v1h-4zM648 329h3v1h-3zM644 330h4v1h-4zM642 331h2v1h-2zM641 332h1v1h-1zM640 333h1v1h-1zM639 334h1v1h-1zM638 335h1v1h-1zM637 336h1v1h-1zM635 337h2v1h-2zM634 338h1v1h-1zM633 339h1v1h-1zM632 340h1v1h-1zM631 341h1v1h-1zM630 342h1v1h-1zM614 343h16v1h-16zM611 344h3v1h-3zM609 345h2v1h-2zM606 346h3v1h-3zM603 347h3v1h-3zM600 348h3v1h-3zM597 349h3v1h-3zM595 350h2v1h-2zM592 351h3v1h-3zM589 352h3v1h-3zM587 353h2v1h-2zM585 354h2v1h-2zM583 355h2v1h-2zM581 356h2v1h-2zM580 357h1v1h-1zM578 358h2v1h-2zM576 359h2v1h-2zM574 360h2v1h-2zM572 361h2v1h-2zM570 362h2v1h-2zM567 363h3v1h-3zM564 364h3v1h-3zM562 365h2v1h-2zM554 366h8v1h-8zM545 367h9v1h-9zM542 368h3v1h-3zM540 369h2v1h-2zM537 370h3v1h-3zM534 371h3v1h-3zM531 372h3v1h-3zM527 373h4v1h-4zM524 374h3v1h-3zM520 375h4v1h-4zM517 376h3v1h-3zM514 377h3v1h-3zM510 378h4v1h-4zM507 379h3v1h-3zM505 380h2v1h-2z" fill="#2c3e50" shape-rendering="crispEdges"/>
<path d="M763 0H583V1147Q518 1085 412.5 1023Q307 961 223 930V1104Q374 1175 487 1276Q600 1377 647 1472H763Z" fill="#4d4d4d" stroke="#4d4d4d" stroke-width="36" transform="translate(491.75,400.00) scale(0.005981,-0.005981)"/>
<text x="499.37" y="400.00" font-size="12.25" fill="#4d4d4d">9</text>
<text x="506.18" y="400.00" font-size="12.25" fill="#4d4d4d">5</text>
<text x="512.99" y="400.00" font-size="12.25" fill="#4d4d4d">0</text>
<path d="M763 0H583V1147Q518 1085 412.5 1023Q307 961 223 930V1104Q374 1175 487 1276Q600 1377 647 1472H763Z" fill="#4d4d4d" stroke="#4d4d4d" stroke-width="36" transform="translate(560.64,400.00) scale(0.005981,-0.005981)"/>
<text x="568.25" y="400.00" font-size="12.25" fill="#4d4d4d">9</text>
<text x="575.07" y="400.00" font-size="12.25" fill="#4d4d4d">5</text>
<text x="581.88" y="400.00" font-size="12.25" fill="#4d4d4d">5</text>
<path d="M763 0H583V1147Q518 1085 412.5 1023Q307 961 223 930V1104Q374 1175 487 1276Q600 1377 647 1472H763Z" fill="#4d4d4d" stroke="#4d4d4d" stroke-width="36" transform="translate(629.53,400.00) scale(0.005981,-0.005981)"/>
<text x="637.14" y="400.00" font-size="12.25" fill="#4d4d4d">9</text>
<text x="643.95" y="400.00" font-size="12.25" fill="#4d4d4d">6</text>
<text x="650.77" y="400.00" font-size="12.25" fill="#4d4d4d">0</text>
<text x="53.40" y="21.50" font-size="18" fill="#000000" text-anchor="start">Time Series Feature Cluster Plot</text>
<text x="290.20" y="459.50" font-size="14.5" fill="#000000" text-anchor="start">Legend</text>
<rect x="348" y="453" width="18" height="1" fill="#2c3e50"/>
<path d="M763 0H583V1147Q518 1085 412.5 1023Q307 961 223 930V1104Q374 1175 487 1276Q600 1377 647 1472H763Z" fill="#000000" stroke="#000000" stroke-width="36" transform="translate(375.80,458.80) scale(0.005981,-0.005981)"/>
<rect x="392" y="453" width="19" height="1" fill="#e31a1c"/>
<text x="419.80" y="458.80" font-size="12.25" fill="#000000">2</text>
</svg>
</body></html>
